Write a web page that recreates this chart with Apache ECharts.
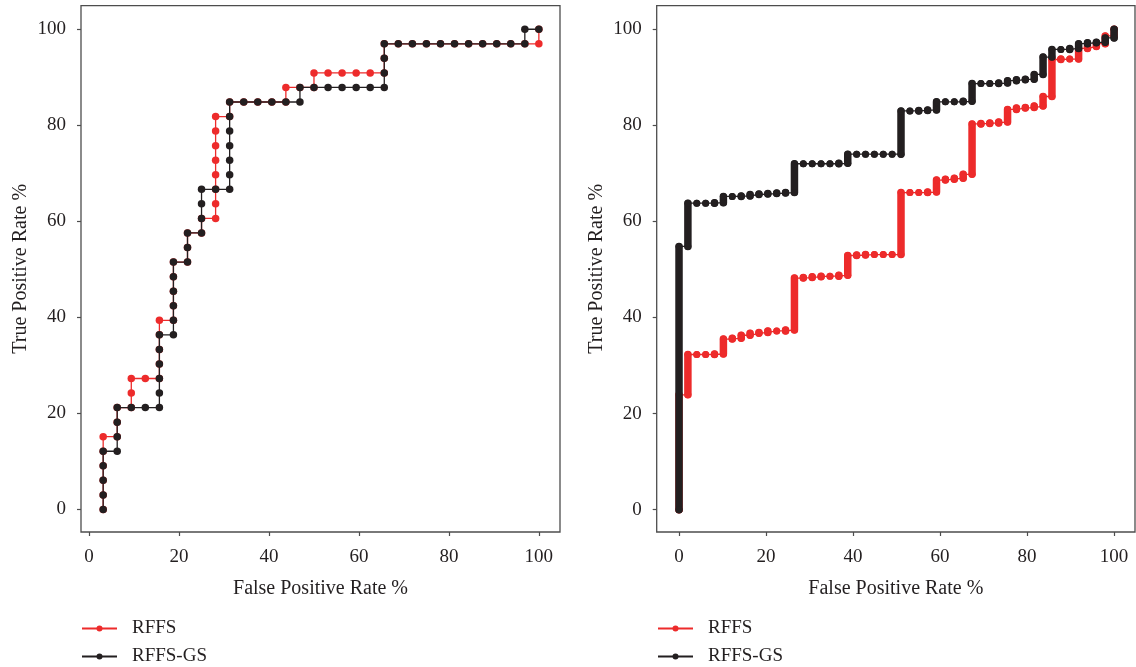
<!DOCTYPE html>
<html><head><meta charset="utf-8">
<script src="https://cdn.jsdelivr.net/npm/echarts@6/dist/echarts.min.js"></script>
<style>html,body{margin:0;padding:0;background:#fff;} #c{width:1136px;height:667px;}</style>
</head><body><div id="c"></div>
<script>
// ---------- data ----------
const tickValues = [0, 20, 40, 60, 80, 100];
const seriesNames = ['RFFS', 'RFFS-GS'];
const xTitle = 'False Positive Rate %';
const yTitle = 'True Positive Rate %';

// Left panel: ROC points (FPR %, TPR %)
const leftRffsX = [3.13,3.13,3.13,3.13,3.13,3.13,6.25,6.25,6.25,9.38,9.38,9.38,12.5,15.63,15.63,15.63,15.63,15.63,18.75,18.75,18.75,18.75,18.75,21.88,21.88,21.88,25,25,28.13,28.13,28.13,28.13,28.13,28.13,28.13,28.13,31.25,31.25,34.38,37.5,40.63,43.75,43.75,46.88,50,50,53.13,56.25,59.38,62.5,65.63,65.63,65.63,68.75,71.88,75,78.13,81.25,84.38,87.5,90.63,93.75,96.88,100,100];
const leftRffsY = [0,3.03,6.06,9.09,12.12,15.15,15.15,18.18,21.21,21.21,24.24,27.27,27.27,27.27,30.3,33.33,36.36,39.39,39.39,42.42,45.45,48.48,51.52,51.52,54.55,57.58,57.58,60.61,60.61,63.64,66.67,69.7,72.73,75.76,78.79,81.82,81.82,84.85,84.85,84.85,84.85,84.85,87.88,87.88,87.88,90.91,90.91,90.91,90.91,90.91,90.91,93.94,96.97,96.97,96.97,96.97,96.97,96.97,96.97,96.97,96.97,96.97,96.97,96.97,100];
const leftGsX = [3.13,3.13,3.13,3.13,3.13,6.25,6.25,6.25,6.25,9.38,12.5,15.63,15.63,15.63,15.63,15.63,15.63,18.75,18.75,18.75,18.75,18.75,18.75,21.88,21.88,21.88,25,25,25,25,28.13,31.25,31.25,31.25,31.25,31.25,31.25,31.25,34.38,37.5,40.63,43.75,46.88,46.88,50,53.13,56.25,59.38,62.5,65.63,65.63,65.63,65.63,68.75,71.88,75,78.13,81.25,84.38,87.5,90.63,93.75,96.88,96.88,100];
const leftGsY = [0,3.03,6.06,9.09,12.12,12.12,15.15,18.18,21.21,21.21,21.21,21.21,24.24,27.27,30.3,33.33,36.36,36.36,39.39,42.42,45.45,48.48,51.52,51.52,54.55,57.58,57.58,60.61,63.64,66.67,66.67,66.67,69.7,72.73,75.76,78.79,81.82,84.85,84.85,84.85,84.85,84.85,84.85,87.88,87.88,87.88,87.88,87.88,87.88,87.88,90.91,93.94,96.97,96.97,96.97,96.97,96.97,96.97,96.97,96.97,96.97,96.97,96.97,100,100];

// Right panel: FPR step positions and TPR reached at each step
const rightFpr = [0,2.04,4.08,6.12,8.16,10.2,12.24,14.29,16.33,18.37,20.41,22.45,24.49,26.53,28.57,30.61,32.65,34.69,36.73,38.78,40.82,42.86,44.9,46.94,48.98,51.02,53.06,55.1,57.14,59.18,61.22,63.27,65.31,67.35,69.39,71.43,73.47,75.51,77.55,79.59,81.63,83.67,85.71,87.76,89.8,91.84,93.88,95.92,97.96,100];
const rightRffsTop = [23.9,32.3,32.3,32.3,32.4,35.5,35.7,36.3,36.7,36.9,37.2,37.2,37.4,48.2,48.3,48.5,48.6,48.6,48.8,52.9,53.0,53.1,53.1,53.1,53.1,66.0,66.0,66.0,66.1,68.6,68.8,69.0,69.8,80.3,80.4,80.5,80.7,83.3,83.6,83.7,84.0,86.0,93.7,93.8,93.8,96.0,96.4,97.0,98.6,100];
const rightGsTop = [54.8,63.8,63.8,63.8,63.9,65.2,65.2,65.3,65.6,65.7,65.8,65.9,66.0,72.0,72.0,72.0,72.0,72.0,72.1,74.0,74.0,74.0,74.0,74.0,74.0,83.0,83.0,83.1,83.2,84.9,84.9,84.9,85.0,88.7,88.7,88.7,88.8,89.3,89.5,89.6,90.6,94.2,95.8,95.8,96.0,97.0,97.2,97.3,98.2,100];

// ---------- styling ----------
const RED = '#ED2B2B', BLACK = '#231F20', FRAME = '#4d4d4d', TEXT = '#231F20';
const FONT = '"Liberation Serif", "Times New Roman", serif';

function zip(xs, ys) { return xs.map((x, i) => [x, ys[i]]); }
function stepPath(xs, tops) {
  const pts = []; let prev = 0;
  xs.forEach((x, i) => { pts.push([x, prev]); pts.push([x, tops[i]]); prev = tops[i]; });
  return pts;
}
function barData(xs, tops) {
  let prev = 0;
  return xs.map((x, i) => { const d = [x, prev, tops[i]]; prev = tops[i]; return d; });
}
function barRenderer(color) {
  return function (params, api) {
    const p1 = api.coord([api.value(0), api.value(1)]);
    const p2 = api.coord([api.value(0), api.value(2)]);
    return { type: 'line', shape: { x1: p1[0], y1: p1[1], x2: p2[0], y2: p2[1] },
      style: { stroke: color, lineWidth: 7.5, lineCap: 'round' } };
  };
}

function xAxis(gi, min, max) {
  return {
    gridIndex: gi, type: 'value', min: min, max: max,
    axisLine: { show: false, onZero: false },
    axisTick: { show: true, inside: false, length: 4, customValues: tickValues, lineStyle: { color: FRAME, width: 1.2 } },
    axisLabel: { customValues: tickValues, margin: 15.5, fontFamily: FONT, fontSize: 19, color: TEXT },
    splitLine: { show: false },
    name: xTitle, nameLocation: 'middle', nameGap: 47,
    nameTextStyle: { fontFamily: FONT, fontSize: 20, color: TEXT }
  };
}
function yAxis(gi, min, max) {
  return {
    gridIndex: gi, type: 'value', min: min, max: max,
    axisLine: { show: false, onZero: false },
    axisTick: { show: true, inside: false, length: 4, customValues: tickValues, lineStyle: { color: FRAME, width: 1.2 } },
    axisLabel: { customValues: tickValues, margin: 15, fontFamily: FONT, fontSize: 19, color: TEXT },
    splitLine: { show: false },
    name: yTitle, nameLocation: 'middle', nameGap: 50,
    nameTextStyle: { fontFamily: FONT, fontSize: 20, color: TEXT }
  };
}
function legend(left) {
  return {
    orient: 'vertical', left: left, top: 619, height: 80, padding: 0,
    itemWidth: 35, itemHeight: 7.5, itemGap: 9,
    selectedMode: false, data: seriesNames,
    textStyle: { fontFamily: FONT, fontSize: 19, color: TEXT, padding: [0, 0, 0, 10] }
  };
}
function lineSeries(name, gi, data, color, z, size) {
  return {
    type: 'line', name: name, xAxisIndex: gi, yAxisIndex: gi, data: data,
    symbol: 'circle', symbolSize: size, showAllSymbol: true, z: z,
    lineStyle: { width: 1.3, color: color }, itemStyle: { color: color },
    emphasis: { disabled: true }, animation: false
  };
}

const chart = echarts.init(document.getElementById('c'), null, { renderer: 'canvas' });
chart.setOption({
  backgroundColor: '#fff',
  animation: false,
  grid: [
    { left: 81, top: 5.7, width: 479, height: 526.3, show: true, borderColor: FRAME, borderWidth: 1.3, backgroundColor: 'transparent' },
    { left: 656.7, top: 5.7, width: 478.3, height: 526.3, show: true, borderColor: FRAME, borderWidth: 1.3, backgroundColor: 'transparent' }
  ],
  xAxis: [xAxis(0, -1.8, 104.7), xAxis(1, -5.13, 104.8)],
  yAxis: [yAxis(0, -4.7, 104.9), yAxis(1, -4.65, 104.9)],
  legend: [legend(81), legend(657)],
  series: [
    lineSeries(seriesNames[0], 0, zip(leftRffsX, leftRffsY), RED, 2, 7.5),
    lineSeries(seriesNames[1], 0, zip(leftGsX, leftGsY), BLACK, 3, 7.5),
    lineSeries(seriesNames[0], 1, stepPath(rightFpr, rightRffsTop), RED, 2, 7),
    { type: 'custom', name: 'RFFS steps', xAxisIndex: 1, yAxisIndex: 1, z: 2,
      data: barData(rightFpr, rightRffsTop), encode: { x: 0, y: [1, 2] },
      renderItem: barRenderer(RED), animation: false },
    lineSeries(seriesNames[1], 1, stepPath(rightFpr, rightGsTop), BLACK, 3, 7),
    { type: 'custom', name: 'RFFS-GS steps', xAxisIndex: 1, yAxisIndex: 1, z: 3,
      data: barData(rightFpr, rightGsTop), encode: { x: 0, y: [1, 2] },
      renderItem: barRenderer(BLACK), animation: false }
  ]
});
</script>
</body></html>
